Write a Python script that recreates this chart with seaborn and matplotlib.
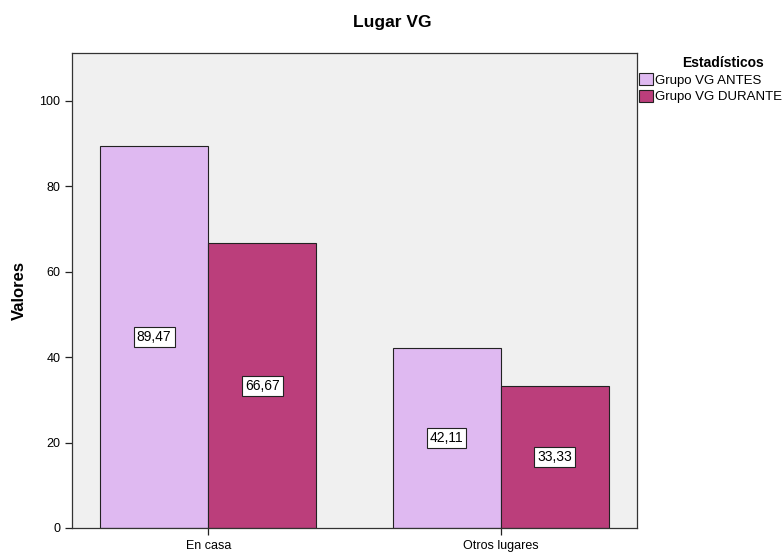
import matplotlib
matplotlib.use("Agg")
import matplotlib.pyplot as plt
import seaborn as sns
import pandas as pd

categorias = ["En casa", "Otros lugares"]
grupos = ["Grupo VG ANTES", "Grupo VG DURANTE"]
valores_antes = [89.47, 42.11]
valores_durante = [66.67, 33.33]
colores = ["#DFB9F1", "#BB3E7B"]

df = pd.DataFrame({
    "Lugar": categorias * 2,
    "Estadísticos": [grupos[0]] * 2 + [grupos[1]] * 2,
    "Valor": valores_antes + valores_durante,
})

sns.set_theme(style="ticks")
plt.rcParams["font.family"] = ["Liberation Sans", "DejaVu Sans"]
plt.rcParams["text.color"] = "black"
plt.rcParams["axes.labelcolor"] = "black"
plt.rcParams["xtick.color"] = "black"
plt.rcParams["ytick.color"] = "black"

fig = plt.figure(figsize=(7.82, 5.54), dpi=100)
ax = fig.add_axes([72 / 782, 1 - 528 / 554, (637 - 72) / 782, (528 - 53) / 554])
ax.set_facecolor("#F0F0F0")

sns.barplot(data=df, x="Lugar", y="Valor", hue="Estadísticos",
            palette=colores, saturation=1, width=0.74, edgecolor="#222222",
            linewidth=0.8, ax=ax, errorbar=None)

ax.set_xlim(-0.466, 1.466)
ax.set_ylim(0, 111.2)
ax.set_yticks([0, 20, 40, 60, 80, 100])
ax.tick_params(axis="both", labelsize=9, length=5, width=0.9, color="#222222")
ax.set_xlabel("")
ax.set_ylabel("Valores", fontsize=12, fontweight="bold", labelpad=9)
for s in ax.spines.values():
    s.set_color("#333333")
    s.set_linewidth(0.9)

# value labels in the middle of each bar
for cont in ax.containers:
    for bar in cont:
        h = bar.get_height()
        ax.text(bar.get_x() + bar.get_width() / 2, h / 2,
                f"{h:.2f}".replace(".", ","), ha="center", va="center",
                fontsize=10,
                bbox=dict(boxstyle="square,pad=0.22", fc="white",
                          ec="#222222", lw=0.8))

fig.text(392 / 782, 1 - 22 / 554, "Lugar VG", ha="center", va="center",
         fontsize=12.5, fontweight="bold")

leg = ax.legend(title="Estadísticos", loc="upper left",
                bbox_to_anchor=(0.995, 1.005), frameon=False, fontsize=9.5,
                handlelength=1.0, handleheight=1.0, handletextpad=0.15,
                borderaxespad=0, labelspacing=0.25)
leg.get_title().set_fontweight("bold")
leg.get_title().set_fontsize(10)
leg.get_title().set_position((12, 0))
leg._legend_box.align = "center"

fig.savefig("out.png", dpi=100)
